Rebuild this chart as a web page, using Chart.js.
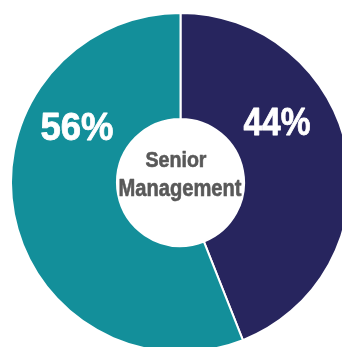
<!DOCTYPE html>
<html>
<head>
<meta charset="utf-8">
<script src="https://cdn.jsdelivr.net/npm/chart.js@4"></script>
<style>
  html, body { margin: 0; padding: 0; background: #fff; overflow: hidden; }
  body { width: 342px; height: 347px; position: relative; }
  #wrap { position: absolute; left: 9.5px; top: 12px; width: 341px; height: 341px; }
</style>
</head>
<body>
<div id="wrap"><canvas id="DonutChart"></canvas></div>
<script>
const categories = ['Navy', 'Teal'];
const shares = [44, 56];
const sliceColors = ['#27255e', '#138f9a'];
const centerTitle = ['Senior', 'Management'];

const FONT = '"Liberation Sans", Arial, sans-serif';

// label placement relative to the ring centre: dx, baseline dy, squeezed width (px)
const labelSpots = [
    { dx: 96.5, dy: -47.5, w: 67, size: 39 },
    { dx: -103.5, dy: -42.5, w: 73, size: 39 }
];
const titleSpots = [
    { dx: -4.5, dy: -15.5, w: 61, size: 22 },
    { dx: -0.5, dy: 13.5, w: 123, size: 23 }
];

// draw text squeezed horizontally to mimic a condensed face
function narrowText(ctx, txt, x, y, w, thick) {
    const natural = ctx.measureText(txt).width;
    const k = Math.min(1, w / natural);
    ctx.save();
    ctx.translate(x, y);
    ctx.scale(k, 1);
    ctx.fillText(txt, 0, 0);
    if (thick) {
        ctx.lineWidth = thick;
        ctx.strokeStyle = ctx.fillStyle;
        ctx.strokeText(txt, 0, 0);
    }
    ctx.restore();
}

const labelPlugin = {
    id: 'donutText',
    afterDatasetsDraw(chart) {
        const ctx = chart.ctx;
        const arc = chart.getDatasetMeta(0).data[0];
        const cx = arc.x, cy = arc.y;
        ctx.save();
        ctx.textAlign = 'center';
        ctx.textBaseline = 'alphabetic';
        ctx.lineJoin = 'round';

        ctx.fillStyle = '#ffffff';
        shares.forEach((v, i) => {
            const s = labelSpots[i];
            ctx.font = 'bold ' + s.size + 'px ' + FONT;
            narrowText(ctx, v + '%', cx + s.dx, cy + s.dy, s.w, 0.8);
        });

        ctx.fillStyle = '#595959';
        centerTitle.forEach((t, i) => {
            const s = titleSpots[i];
            ctx.font = 'bold ' + s.size + 'px ' + FONT;
            narrowText(ctx, t, cx + s.dx, cy + s.dy, s.w, 0.6);
        });
        ctx.restore();
    }
};

const data = {
    labels: categories,
    datasets: [{
        data: shares,
        backgroundColor: sliceColors,
        borderColor: '#ffffff',
        borderWidth: 2,
        hoverOffset: 0
    }]
};

const config = {
    type: 'doughnut',
    data: data,
    options: {
        responsive: true,
        maintainAspectRatio: false,
        animation: false,
        cutout: '37.5%',
        layout: { padding: 0 },
        plugins: {
            legend: { display: false },
            tooltip: { enabled: false },
            title: { display: false }
        }
    },
    plugins: [labelPlugin]
};

const myChart = new Chart(
    document.getElementById('DonutChart'),
    config
);
</script>
</body>
</html>
